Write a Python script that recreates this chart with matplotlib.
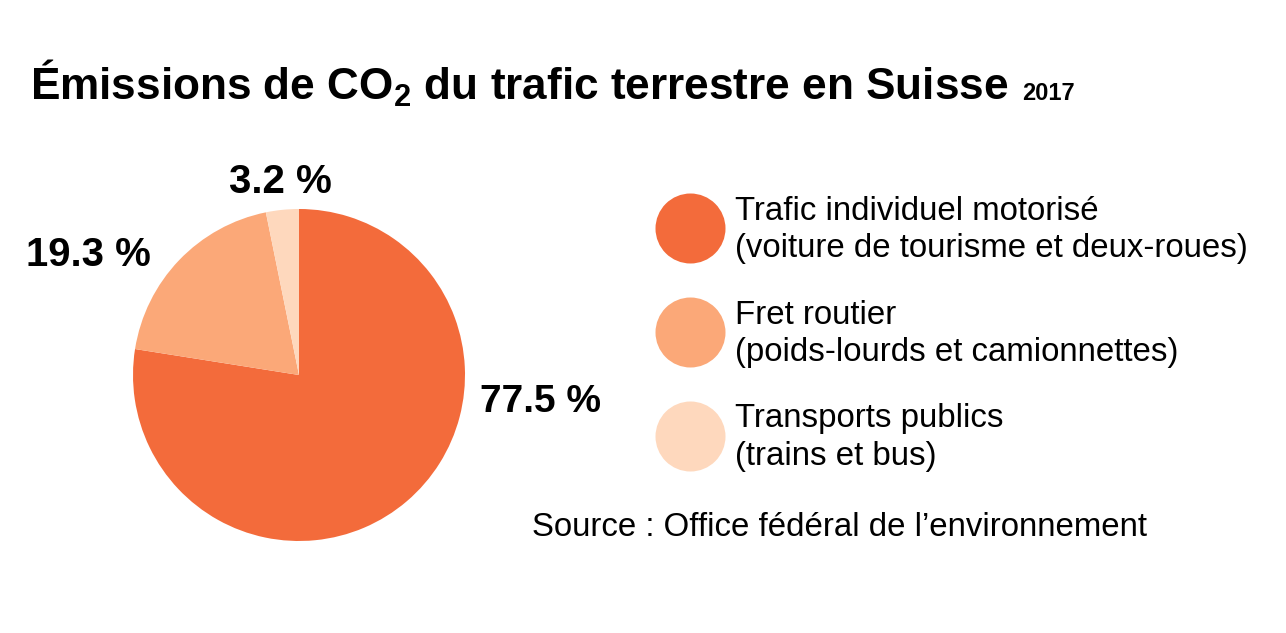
import matplotlib
matplotlib.use("Agg")
import matplotlib.pyplot as plt
from matplotlib import font_manager

# --- données ---
categories = ["Trafic individuel motorisé", "Fret routier", "Transports publics"]
details = ["(voiture de tourisme et deux-roues)", "(poids-lourds et camionnettes)", "(trains et bus)"]
shares = [77.5, 19.3, 3.2]
share_labels = ["77.5 %", "19.3 %", "3.2 %"]
colors = ["#F36B3B", "#FBA878", "#FED8BD"]

W, H = 1286, 633
installed = {f.name for f in font_manager.fontManager.ttflist}
narrow = "Liberation Sans Narrow" if "Liberation Sans Narrow" in installed else "Liberation Sans"
bold_font = "Liberation Sans"

plt.rcParams["mathtext.fontset"] = "custom"
plt.rcParams["mathtext.rm"] = bold_font + ":bold"
plt.rcParams["mathtext.default"] = "rm"

fig = plt.figure(figsize=(W / 100, H / 100), dpi=100)
fig.patch.set_facecolor("white")

# camembert: centre (299, 375) px, rayon 166 px
cx, cy, r = 299, 375, 166
ax = fig.add_axes([(cx - r) / W, (H - cy - r) / H, 2 * r / W, 2 * r / H])
ax.pie(shares, colors=colors, startangle=90, counterclock=False,
       wedgeprops=dict(linewidth=0))
ax.set_xlim(-1, 1)
ax.set_ylim(-1, 1)
ax.set_aspect("auto")
ax.axis("off")

# calque en pixels pour les textes et la légende
ov = fig.add_axes([0, 0, 1, 1], facecolor="none")
ov.set_xlim(0, W)
ov.set_ylim(H, 0)
ov.axis("off")

renderer = fig.canvas.get_renderer()

def fit(text, target):
    # ajuste la taille de police pour atteindre la largeur voulue
    for _ in range(3):
        w = text.get_window_extent(renderer).width
        text.set_fontsize(text.get_fontsize() * target / w)

# titre
title = ov.text(30, 100, "Émissions de CO$_2$ du trafic terrestre en Suisse",
                family=bold_font, weight="bold", fontsize=32, va="baseline", ha="left")
fit(title, 980)
x_end = ov.transData.inverted().transform(
    (title.get_window_extent(renderer).x1, 0))[0]
ov.text(x_end + 14, 100, "2017", family=bold_font, weight="bold", fontsize=17,
        va="baseline", ha="left")

# étiquettes des parts
label_pos = [(540, 402), (88, 255), (280, 182)]
label_w = [121, 125, 103]
for lab, (x, y), tw in zip(share_labels, label_pos, label_w):
    t = ov.text(x, y, lab, family=bold_font, weight="bold", fontsize=28,
                ha="center", va="center")
    fit(t, tw)

# légende
row_y = [228, 332, 436]
for cat, det, col, y in zip(categories, details, colors, row_y):
    ov.scatter([690], [y], s=(70 * 0.72) ** 2, color=col, linewidths=0)
    ov.text(735, y - 17, cat, family=narrow, fontsize=25, ha="left", va="center")
    t = ov.text(735, y + 21, det, family=narrow, fontsize=25, ha="left", va="center")
    if det == details[0]:
        fit(t, 513)
        legend_size = t.get_fontsize()
for t in ov.texts[-6:]:
    t.set_fontsize(legend_size)

src = ov.text(532, 528, "Source : Office fédéral de l\u2019environnement",
              family=narrow, fontsize=legend_size, ha="left", va="center")

fig.savefig("out.png", dpi=100, facecolor="white")
